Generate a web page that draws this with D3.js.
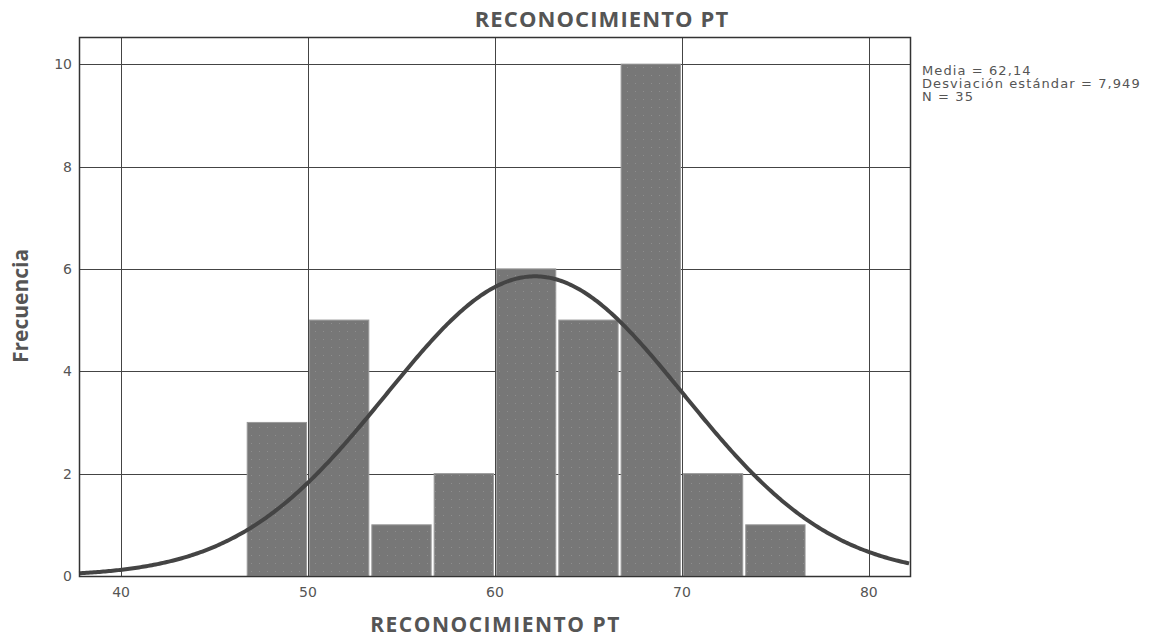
<!DOCTYPE html>
<html>
<head>
<meta charset="utf-8">
<script src="https://cdn.jsdelivr.net/npm/d3@7"></script>
<style>
  body { margin: 0; background: #fff; }
  svg { display: block; }
</style>
</head>
<body>
<svg id="chart" width="1157" height="640"></svg>
<script>
// histogram data
const binEdges = [46.667, 50, 53.333, 56.667, 60, 63.333, 66.667, 70, 73.333, 76.667];
const counts = [3, 5, 1, 2, 6, 5, 10, 2, 1];
const xTicks = [40, 50, 60, 70, 80];
const yTicks = [0, 2, 4, 6, 8, 10];
const stats = { mean: 62.14, sd: 7.949, n: 35 };
const legendLines = ['Media = 62,14', 'Desviación estándar = 7,949', 'N = 35'];

const svg = d3.select('#chart');
const plotL = 79, plotR = 910, plotT = 37, plotB = 576;

const x = d3.scaleLinear().domain([37.75, 82.2]).range([plotL, plotR]);
const y = d3.scaleLinear().domain([0, 10.53]).range([plotB, plotT]);

// dotted texture for bars
const defs = svg.append('defs');
const pat = defs.append('pattern')
  .attr('id', 'dots')
  .attr('width', 8).attr('height', 8)
  .attr('patternUnits', 'userSpaceOnUse');
pat.append('rect').attr('width', 8).attr('height', 8).attr('fill', '#777');
pat.append('rect').attr('x', 3).attr('y', 3).attr('width', 1).attr('height', 1).attr('fill', '#8e8e8e');

// grid
const grid = svg.append('g').attr('stroke', '#444').attr('stroke-width', 1);
grid.selectAll('line.v').data(xTicks).enter().append('line')
  .attr('x1', d => Math.round(x(d)) + 0.5).attr('x2', d => Math.round(x(d)) + 0.5)
  .attr('y1', plotT).attr('y2', plotB);
grid.selectAll('line.h').data(yTicks).enter().append('line')
  .attr('x1', plotL).attr('x2', plotR)
  .attr('y1', d => Math.round(y(d)) + 0.5).attr('y2', d => Math.round(y(d)) + 0.5);

// bars
svg.append('g').selectAll('rect')
  .data(counts)
  .enter().append('rect')
  .attr('x', (d, i) => x(binEdges[i]) + 1.5)
  .attr('width', (d, i) => x(binEdges[i + 1]) - x(binEdges[i]) - 3)
  .attr('y', d => y(d))
  .attr('height', d => y(0) - y(d))
  .attr('fill', 'url(#dots)')
  .attr('stroke', '#9a9a9a')
  .attr('stroke-width', 1);

// normal curve from the displayed mean and sd
const binW = binEdges[1] - binEdges[0];
const curveX = d3.range(37.75, 82.21, 0.1);
const pdf = v => stats.n * binW / (stats.sd * Math.sqrt(2 * Math.PI)) *
  Math.exp(-0.5 * Math.pow((v - stats.mean) / stats.sd, 2));
svg.append('path')
  .datum(curveX)
  .attr('fill', 'none')
  .attr('stroke', '#444')
  .attr('stroke-width', 4)
  .attr('d', d3.line().x(d => x(d)).y(d => y(pdf(d))));

// frame
svg.append('rect')
  .attr('x', plotL + 0.5).attr('y', plotT + 0.5)
  .attr('width', plotR - plotL).attr('height', plotB - plotT)
  .attr('fill', 'none').attr('stroke', '#333').attr('stroke-width', 1.5);

// tick labels
const tickFont = '"DejaVu Sans", Verdana, sans-serif';
svg.append('g').selectAll('text').data(xTicks).enter().append('text')
  .attr('x', d => x(d)).attr('y', 597)
  .attr('text-anchor', 'middle')
  .attr('font-family', tickFont).attr('font-size', 14).attr('fill', '#555')
  .text(d => d);
svg.append('g').selectAll('text').data(yTicks).enter().append('text')
  .attr('x', 72).attr('y', d => y(d) + 5)
  .attr('text-anchor', 'end')
  .attr('font-family', tickFont).attr('font-size', 14).attr('fill', '#555')
  .text(d => d);

// titles
const titleFont = '"Open Sans", sans-serif';
svg.append('text')
  .attr('x', 602).attr('y', 27)
  .attr('text-anchor', 'middle')
  .attr('font-family', titleFont).attr('font-weight', 'bold')
  .attr('font-size', 22).attr('letter-spacing', 1.1).attr('fill', '#555')
  .text('RECONOCIMIENTO PT');
svg.append('text')
  .attr('x', (plotL + plotR) / 2 + 1).attr('y', 632)
  .attr('text-anchor', 'middle')
  .attr('font-family', titleFont).attr('font-weight', 'bold')
  .attr('font-size', 21).attr('letter-spacing', 1.5).attr('fill', '#555')
  .text('RECONOCIMIENTO PT');
svg.append('text')
  .attr('transform', 'translate(28,306) rotate(-90)')
  .attr('text-anchor', 'middle')
  .attr('font-family', titleFont).attr('font-weight', 'bold')
  .attr('font-size', 21).attr('fill', '#555')
  .text('Frecuencia');

// stats legend
svg.append('g').selectAll('text').data(legendLines).enter().append('text')
  .attr('x', 922).attr('y', (d, i) => 75 + i * 13)
  .attr('font-family', tickFont).attr('font-size', 13)
  .attr('letter-spacing', 1.1).attr('fill', '#555')
  .text(d => d);
</script>
</body>
</html>
